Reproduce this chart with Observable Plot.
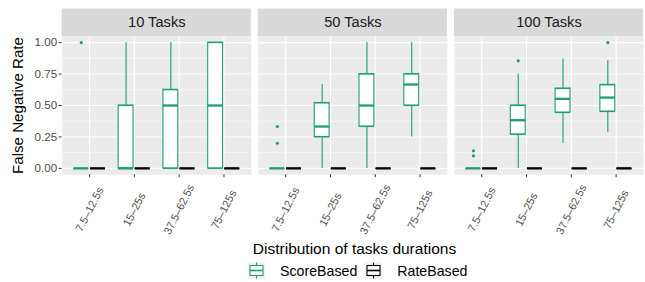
<!DOCTYPE html>
<html>
<head>
<meta charset="utf-8">
<script src="https://cdn.jsdelivr.net/npm/d3@7"></script>
<script src="https://cdn.jsdelivr.net/npm/@observablehq/plot@0.6"></script>
<style>
  html, body { margin: 0; padding: 0; background: #fff; overflow: hidden; }
  body { font-family: "Liberation Sans", Arial, Helvetica, sans-serif; width: 645px; }
  #chart { width: 645px; overflow: hidden; height: 235px; }
  #chart svg { display: block; }
  #legend { width: 645px; position: relative; height: 47px; }
  #legend .title { position: absolute; left: 61px; width: 587px; top: 5px; text-align: center; font-size: 15.5px; color: #000; white-space: nowrap; }
  #legend .row { position: absolute; left: 248px; top: 27px; display: flex; align-items: center; font-size: 14.2px; color: #000; white-space: nowrap; }
  #legend .key { width: 17px; height: 17px; background: #f2f2f2; margin-right: 15px; }
  #legend .lab { margin-right: 8px; }
</style>
</head>
<body>
<div id="chart"></div>
<div id="legend"></div>
<script>
// ---- data ----
const panels = ["10 Tasks", "50 Tasks", "100 Tasks"];
const durations = ["7.5–12.5s", "15–25s", "37.5–62.5s", "75–125s"];
const methods = ["ScoreBased", "RateBased"];
const methodColors = ["#1b9e77", "#000000"];

// ScoreBased box statistics [panel][duration]
const scoreLow    = [[0, 0, 0, 0],     [0, 0, 0, 0.25],      [0, 0, 0.2, 0.286]];
const scoreQ1     = [[0, 0, 0, 0],     [0, 0.25, 0.333, 0.5], [0, 0.27, 0.444, 0.452]];
const scoreMedian = [[0, 0, 0.5, 0.5], [0, 0.333, 0.5, 0.667], [0, 0.383, 0.553, 0.563]];
const scoreQ3     = [[0, 0.5, 0.625, 1], [0, 0.52, 0.75, 0.75], [0, 0.5, 0.635, 0.664]];
const scoreHigh   = [[0, 1, 1, 1],     [0, 0.667, 1, 1],      [0, 0.75, 0.87, 0.855]];

// RateBased box statistics [panel][duration]
const rateLow    = [[0, 0, 0, 0], [0, 0, 0, 0], [0, 0, 0, 0]];
const rateQ1     = [[0, 0, 0, 0], [0, 0, 0, 0], [0, 0, 0, 0]];
const rateMedian = [[0, 0, 0, 0], [0, 0, 0, 0], [0, 0, 0, 0]];
const rateQ3     = [[0, 0, 0, 0], [0, 0, 0, 0], [0, 0, 0, 0]];
const rateHigh   = [[0, 0, 0, 0], [0, 0, 0, 0], [0, 0, 0, 0]];

// ScoreBased outliers
const outlierPanel    = ["10 Tasks", "50 Tasks", "50 Tasks", "100 Tasks", "100 Tasks", "100 Tasks", "100 Tasks"];
const outlierDuration = ["7.5–12.5s", "7.5–12.5s", "7.5–12.5s", "7.5–12.5s", "7.5–12.5s", "15–25s", "75–125s"];
const outlierValue    = [1.0, 0.333, 0.2, 0.14, 0.1, 0.855, 1.0];

const yTicks = [0, 0.25, 0.5, 0.75, 1];
const yMinor = [0.125, 0.375, 0.625, 0.875];

// ---- build tables ----
const stats = [
  [scoreLow, scoreQ1, scoreMedian, scoreQ3, scoreHigh],
  [rateLow, rateQ1, rateMedian, rateQ3, rateHigh]
];
const rows = [];
panels.forEach((p, i) => durations.forEach((d, j) => methods.forEach((m, k) => {
  const s = stats[k];
  rows.push({panel: p, duration: d, method: m, lo: s[0][i][j], q1: s[1][i][j], med: s[2][i][j], q3: s[3][i][j], hi: s[4][i][j]});
})));
const outliers = outlierValue.map((v, i) => ({panel: outlierPanel[i], duration: outlierDuration[i], value: v, method: "ScoreBased"}));

// ---- layout ----
const W = 648, H = 235, ML = 61, MR = 0, MT = 36, MB = 60;
const fxPad = 0.033;
const plotW = W - ML - MR;
const fxStep = plotW / (3 - fxPad);
const panelW = fxStep * (1 - fxPad);
const xPadOuter = 0.1;
const xStep = panelW / (durations.length + 2 * xPadOuter);
const boxW = 15.5, gap = 0.6;
const half = xStep / 2;
const yTop = 1.05;

const font = "Liberation Sans, Arial, Helvetica, sans-serif";
const marks = [
  Plot.frame({fill: "#ebebeb", stroke: null}),
  Plot.gridY({ticks: yMinor, stroke: "#ffffff", strokeOpacity: 1, strokeWidth: 0.55}),
  Plot.gridY({ticks: yTicks, stroke: "#ffffff", strokeOpacity: 1, strokeWidth: 1.1}),
  Plot.gridX({stroke: "#ffffff", strokeOpacity: 1, strokeWidth: 1.1}),
  // facet strips
  Plot.ruleY(panels, {fx: d => d, y: () => yTop, stroke: "#d9d9d9", strokeWidth: 28, dy: -14}),
  Plot.text(panels, {fx: d => d, text: d => d, frameAnchor: "top", dy: -14, fontSize: 14.7, fill: "#1a1a1a", lineAnchor: "middle"}),
  // axes
  Plot.axisY({ticks: yTicks, tickFormat: d3.format(".2f"), tickSize: 3, tickPadding: 2, fontSize: 11.7, color: "#4d4d4d", stroke: "#333333", label: null}),
  Plot.axisX({tickSize: 3, tickFormat: () => "", stroke: "#333333", label: null}),
  Plot.text(durations, {x: d => d, text: d => d, frameAnchor: "bottom", dy: 35, rotate: -63, textAnchor: "middle", lineAnchor: "middle", fontSize: 11, fill: "#4d4d4d"}),
  Plot.text(["False Negative Rate"], {fx: [panels[0]], text: d => d, frameAnchor: "left", dx: -44.5, rotate: -90, textAnchor: "middle", lineAnchor: "middle", fontSize: 15.2, fill: "#000"})
];

methods.forEach((m, k) => {
  const data = rows.filter(r => r.method === m);
  const color = methodColors[k];
  const sign = k === 0 ? -1 : 1;
  const dx = sign * (gap + boxW / 2);
  const insetNear = gap;
  const insetFar = half - gap - boxW;
  const insetLeft = k === 0 ? insetFar : half + insetNear;
  const insetRight = k === 0 ? half + insetNear : insetFar;
  marks.push(
    Plot.ruleX(data, {fx: "panel", x: "duration", y1: "q3", y2: "hi", dx, stroke: color, strokeWidth: 1.1}),
    Plot.ruleX(data, {fx: "panel", x: "duration", y1: "lo", y2: "q1", dx, stroke: color, strokeWidth: 1.1}),
    Plot.barY(data, {fx: "panel", x: "duration", y1: "q1", y2: "q3", fill: "#ffffff", stroke: color, strokeWidth: 1.1, insetLeft, insetRight}),
    Plot.tickY(data, {fx: "panel", x: "duration", y: "q1", stroke: color, strokeWidth: 1.1, insetLeft, insetRight}),
    Plot.tickY(data, {fx: "panel", x: "duration", y: "q3", stroke: color, strokeWidth: 1.1, insetLeft, insetRight}),
    Plot.tickY(data, {fx: "panel", x: "duration", y: "med", stroke: color, strokeWidth: 2.3, insetLeft, insetRight})
  );
  if (k === 0) {
    marks.push(Plot.dot(outliers, {fx: "panel", x: "duration", y: "value", dx, r: 1.6, fill: color, stroke: null}));
  }
});

const chart = Plot.plot({
  width: W, height: H,
  marginLeft: ML, marginRight: MR, marginTop: MT, marginBottom: MB,
  style: {fontFamily: font, background: "#ffffff", overflow: "visible"},
  fx: {domain: panels, paddingInner: fxPad, paddingOuter: 0, axis: null, label: null},
  x: {type: "band", domain: durations, paddingInner: 0, paddingOuter: xPadOuter, axis: null, label: null},
  y: {domain: [-0.05, yTop], axis: null, label: null},
  marks
});
document.getElementById("chart").appendChild(chart);

// ---- legend ----
const legend = document.getElementById("legend");
const title = document.createElement("div");
title.className = "title";
title.textContent = "Distribution of tasks durations";
legend.appendChild(title);
const row = document.createElement("div");
row.className = "row";
methods.forEach((m, k) => {
  const c = methodColors[k];
  const key = document.createElement("div");
  key.className = "key";
  key.innerHTML = `<svg width="17" height="17" viewBox="0 0 17 17" style="display:block">
    <line x1="8.5" y1="0.5" x2="8.5" y2="16.5" stroke="${c}" stroke-width="1.1"/>
    <rect x="2" y="3.5" width="13" height="10" fill="#fff" stroke="${c}" stroke-width="1.1"/>
    <line x1="2" y1="8.5" x2="15" y2="8.5" stroke="${c}" stroke-width="1.6"/>
  </svg>`;
  const lab = document.createElement("div");
  lab.className = "lab";
  lab.textContent = m;
  row.appendChild(key);
  row.appendChild(lab);
});
legend.appendChild(row);
</script>
</body>
</html>
